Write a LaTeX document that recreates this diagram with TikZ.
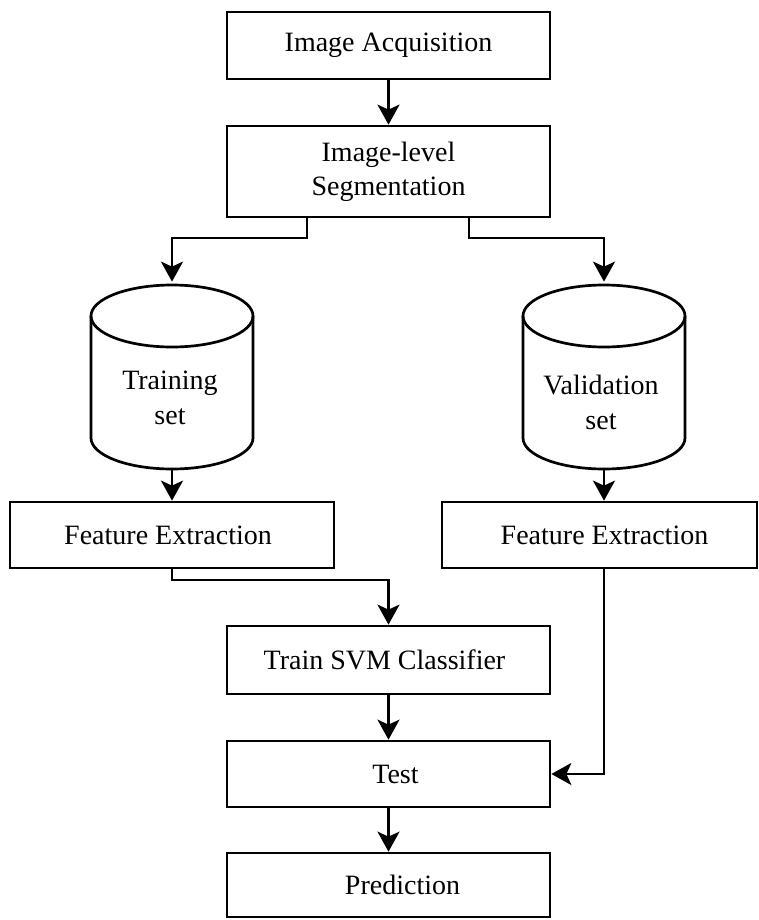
\documentclass[tikz,border=0pt]{standalone}
\usepackage{fontspec}
\setmainfont{Liberation Serif}
\usetikzlibrary{arrows.meta,calc}
\begin{document}
\begin{tikzpicture}[x=1pt,y=-1pt,
  line width=2.7pt,
  box/.style={draw, rectangle, minimum height=#1, inner sep=0pt, align=center,
    font=\fontsize{28}{34}\selectfont},
  box/.default=66pt,
  lbl/.style={align=center, font=\fontsize{28}{35}\selectfont},
  cylanchor/.style={rectangle, minimum width=162pt, minimum height=186pt, inner sep=0pt},
  arr/.style={-{Stealth[length=20pt,width=22pt,inset=5pt]}}]
\useasboundingbox (0,0) rectangle (758,920);
% boxes
\node[box=67pt, minimum width=323pt] (acq) at (388.5,45.5) {Image Acquisition};
\node[box=91pt, minimum width=323pt] (seg) at (388.5,171.5) {Image-level\\Segmentation};
\node[box=66pt, minimum width=324pt] (fe1) at (172,535) {Feature Extraction\hspace*{8pt}};
\node[box=66pt, minimum width=315pt] (fe2) at (599.5,535) {\hspace*{10pt}Feature Extraction};
\node[box=68pt, minimum width=323pt] (svm) at (388.5,660) {Train SVM Classifier\hspace*{8pt}};
\node[box=66pt, minimum width=323pt] (test) at (388.5,774) {\hspace*{14pt}Test};
\node[box=64pt, minimum width=323pt] (pred) at (388.5,885) {\hspace*{28pt}Prediction};
% cylinders (anchor nodes)
\node[cylanchor] (train) at (172,376) {};
\node[cylanchor] (val) at (604,376) {};
\draw (172,316) ellipse [x radius=81pt, y radius=31pt];
\draw (91,316) -- (91,438) arc[start angle=180, end angle=360, x radius=81pt, y radius=31pt] -- (253,316);
\draw (604,316) ellipse [x radius=81pt, y radius=31pt];
\draw (523,316) -- (523,438) arc[start angle=180, end angle=360, x radius=81pt, y radius=31pt] -- (685,316);
\node[lbl] (trtxt) at (170,398) {Training\\set};
\node[lbl] (valtxt) at (601,402) {Validation\\set};
% connectors
\draw[arr] (acq.south) -- (seg.north);
\draw[arr] ($(seg.south)+(-81.5,0)$) |- (172,238) -- (train.north);
\draw[arr] ($(seg.south)+(80.5,0)$) |- (604,238) -- (val.north);
\draw[arr] (train.south) -- (fe1.north);
\draw[arr] (val.south) -- (val.south |- fe2.north);
\draw[arr] (fe1.south) |- (388.5,580) -- (svm.north);
\draw[arr] (fe2.south -| val.south) |- (test.east);
\draw[arr] (svm.south) -- (test.north);
\draw[arr] (test.south) -- (pred.north);
\end{tikzpicture}
\end{document}
